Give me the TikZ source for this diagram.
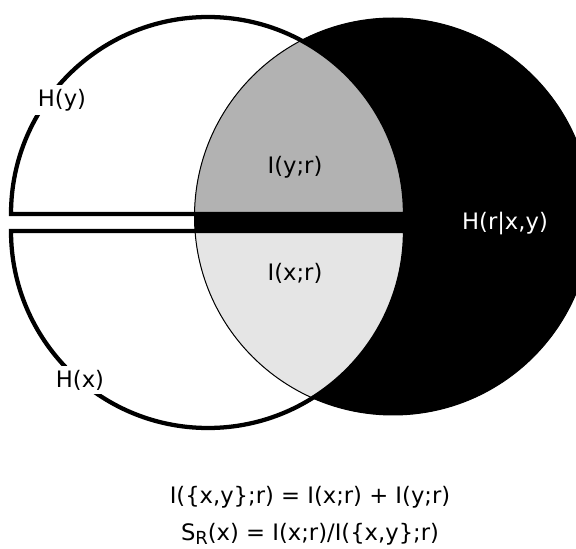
\documentclass[tikz,border=0pt]{standalone}
\usepackage{fontspec}
\setmainfont{DejaVu Sans}
\definecolor{upgray}{gray}{0.70}
\definecolor{lowgray}{gray}{0.90}

\begin{document}
\begin{tikzpicture}[x=0.75pt, y=-0.75pt,
  every node/.style={font=\fontsize{17}{20}\selectfont},
  rim/.style={line width=3.2pt, black},
  lbl/.style={fill=white, inner sep=3pt}]
  \useasboundingbox (0,0) rectangle (576,549);

  % Entropy of r (black disc)
  \fill[black] (393,216.5) circle[radius=198.5];

  % Shared parts, kept inside the disc of r
  \begin{scope}
    \clip (393,216.5) circle[radius=198.5];
    \fill[upgray] (11,214) arc[start angle=180, end angle=360, radius=197] -- cycle;
    \fill[lowgray] (11,231) arc[start angle=180, end angle=0, radius=197] -- cycle;
  \end{scope}

  % Half discs of y (top) and x (bottom)
  \draw[rim] (11,214) arc[start angle=180, end angle=360, radius=197] -- cycle;
  \draw[rim] (11,231) arc[start angle=180, end angle=0, radius=197] -- cycle;

  % Rim of r
  \draw[black, line width=0.75pt] (393,216.5) circle[radius=198.5];

  % Labels
  \node[lbl] (hy) at (62,100) {H(y)};
  \node[lbl] (hx) at (80,380) {H(x)};
  \node (iyr) at (295,167) {I(y;r)};
  \node (ixr) at (295,273) {I(x;r)};
  \node[text=white] (hrxy) at (505,224) {H(r|x,y)};

  % Equations
  \node (eqsum) at (310,497) {I(\{x,y\};r) = I(x;r) + I(y;r)};
  \node[inner sep=1pt] (eqsr) at (310,534) {S{\fontsize{13.5}{14}\selectfont\raisebox{-3.5pt}{R}}(x) = I(x;r)/I(\{x,y\};r)};
\end{tikzpicture}
\end{document}
